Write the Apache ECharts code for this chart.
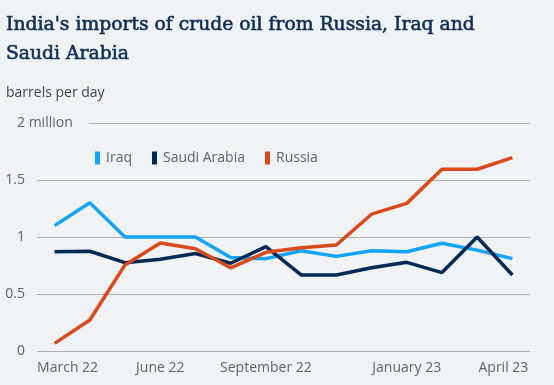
<!DOCTYPE html>
<html>
<head>
<meta charset="utf-8">
<script src="https://cdn.jsdelivr.net/npm/echarts@6/dist/echarts.min.js"></script>
<style>
  html, body { margin: 0; padding: 0; background: #f1f2f4; }
  #chart { width: 554px; height: 385px; }
</style>
</head>
<body>
<div id="chart"></div>
<script>
const categories = ['March 22', 'April 22', 'May 22', 'June 22', 'July 22', 'August 22', 'September 22',
  'October 22', 'November 22', 'December 22', 'January 23', 'February 23', 'March 23', 'April 23'];
const shownLabels = [0, 3, 6, 10, 13];
const iraq = [1.10, 1.30, 1.00, 1.00, 1.00, 0.82, 0.81, 0.88, 0.83, 0.88, 0.87, 0.945, 0.885, 0.81];
const saudi = [0.87, 0.875, 0.775, 0.805, 0.855, 0.77, 0.915, 0.667, 0.667, 0.73, 0.778, 0.688, 1.0, 0.667];
const russia = [0.067, 0.272, 0.755, 0.947, 0.897, 0.73, 0.866, 0.905, 0.93, 1.2, 1.295, 1.594, 1.594, 1.696];
const yTicks = { 0: '0', 0.5: '0.5', 1: '1', 1.5: '1.5', 2: '2 million' };

const BG = '#f1f2f4';
const chart = echarts.init(document.getElementById('chart'));
chart.setOption({
  backgroundColor: BG,
  animation: false,
  title: [{
    text: "India's imports of crude oil from Russia, Iraq and\nSaudi Arabia",
    left: 1, top: 6,
    textStyle: { fontFamily: 'DejaVu Serif', fontSize: 18.75, fontWeight: 'normal', color: '#0d2e57', lineHeight: 29,
      textBorderColor: '#0d2e57', textBorderWidth: 0.6 }
  }, {
    text: 'barrels per day',
    left: 1, top: 81,
    textStyle: { fontFamily: 'Open Sans', fontSize: 14, fontWeight: 'normal', color: '#3d4650' }
  }],
  legend: {
    left: 90, top: 146,
    icon: 'rect', itemWidth: 5, itemHeight: 13, itemGap: 20,
    textStyle: { fontFamily: 'Open Sans', fontSize: 14, color: '#5a6570', padding: [7, 0, 0, 1] },
    data: ['Iraq', 'Saudi Arabia', 'Russia']
  },
  grid: { left: 37, right: 24, top: 123, bottom: 34 },
  xAxis: {
    type: 'category',
    data: categories,
    boundaryGap: true,
    axisLine: { show: false },
    axisTick: { show: false },
    axisLabel: {
      interval: (i) => shownLabels.includes(i),
      margin: 10,
      fontFamily: 'Open Sans', fontSize: 14, color: '#5a6570',
      formatter: (v, i) => i === 0 ? '{first|' + v + '}' : (i === categories.length - 1 ? '{last|' + v + '}' : v),
      rich: {
        first: { fontFamily: 'Open Sans', fontSize: 14, color: '#5a6570', padding: [0, 0, 0, 26] },
        last: { fontFamily: 'Open Sans', fontSize: 14, color: '#5a6570', padding: [0, 18, 0, 0] }
      }
    }
  },
  yAxis: {
    type: 'value', min: 0, max: 2, interval: 0.5,
    axisLine: { show: false },
    axisTick: { show: false },
    splitLine: { lineStyle: { color: '#a7aeb5', width: 1 } },
    axisLabel: {
      align: 'left', margin: 31,
      formatter: (v) => {
        const t = yTicks[v];
        if (v === 2) return '{top|' + t + '}';
        return '{n|' + t + '}';
      },
      rich: {
        n: { fontFamily: 'Open Sans', fontSize: 14, color: '#5a6570', width: 19, align: 'right' },
        top: { fontFamily: 'Open Sans', fontSize: 14, color: '#5a6570', backgroundColor: BG, padding: [3, 16, 3, 11] }
      }
    }
  },
  series: [
    { name: 'Iraq', type: 'line', data: iraq, symbol: 'none', color: '#12a3fb', lineStyle: { width: 3.5, color: '#12a3fb' } },
    { name: 'Saudi Arabia', type: 'line', data: saudi, symbol: 'none', color: '#002a55', lineStyle: { width: 3.5, color: '#002a55' } },
    { name: 'Russia', type: 'line', data: russia, symbol: 'none', color: '#d8491d', lineStyle: { width: 3.5, color: '#d8491d' } }
  ]
});
</script>
</body>
</html>
